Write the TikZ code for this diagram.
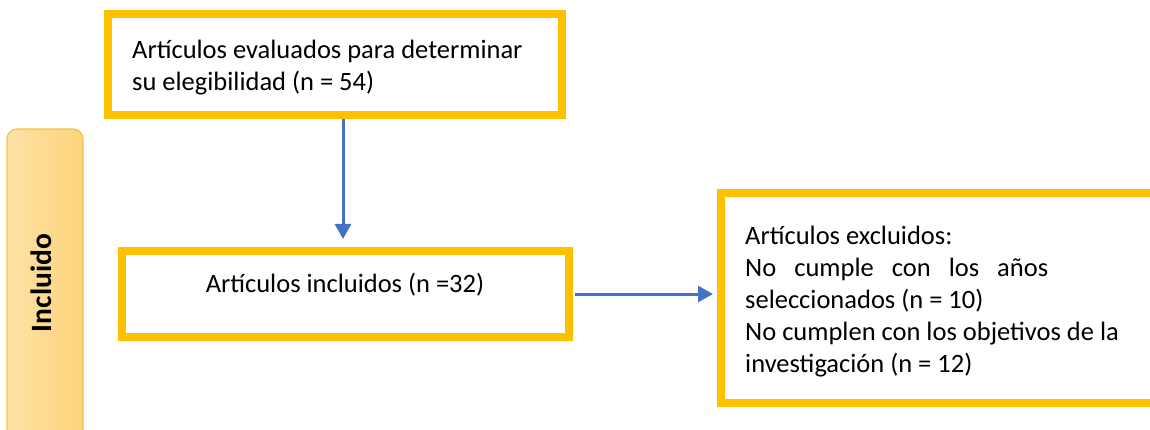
\documentclass[tikz,border=0pt]{standalone}
\usepackage{fontspec}
\setmainfont{Carlito}
\usetikzlibrary{arrows.meta,shadings}
\definecolor{gold}{HTML}{FFC000}
\definecolor{arrowblue}{HTML}{4472C4}
\definecolor{sideL}{HTML}{FEE1A6}
\definecolor{sideR}{HTML}{FDD47B}
\definecolor{sideB}{HTML}{F6C343}
\tikzset{
  goldbox/.style={draw=gold, line width=7.5pt, inner sep=0pt, outer sep=0pt},
  flow/.style={draw=arrowblue, line width=3pt, -{Triangle[length=15pt,width=16pt]}},
  txt/.style={font=\fontsize{26.5}{32}\selectfont, inner sep=0pt, align=left, anchor=base west},
}
\begin{document}
\begin{tikzpicture}[x=1pt,y=-1pt]
\useasboundingbox (0,0) rectangle (1150,430);
\fill[white] (0,0) rectangle (1150,430);
\clip (0,0) rectangle (1150,430);
% side label
\node[draw=sideB, line width=1.2pt, rounded corners=10pt, left color=sideL, right color=sideR,
      minimum width=76pt, minimum height=320pt, anchor=north west, inner sep=0pt, outer sep=0pt] (side) at (7,129) {};
\node[rotate=90, font=\fontsize{29.5}{32}\selectfont\bfseries, inner sep=0pt] (sidelbl) at (41,283) {Incluido};
% boxes
\node[goldbox, minimum width=454pt, minimum height=101pt, anchor=north west] (b1) at (108,14) {};
\node[txt] (t1) at (132,91) {Artículos evaluados para determinar\\su elegibilidad (n = 54)};
\node[goldbox, minimum width=447pt, minimum height=86pt, anchor=north west] (b2) at (122,251) {};
\node[txt, anchor=base] (t2) at (345,292) {Artículos incluidos (n =32)};
\node[goldbox, minimum width=500pt, minimum height=210pt, anchor=north west] (b3) at (721,193) {};
\node[txt] (t3) at (745,372) {Artículos excluidos:\\
\makebox[303pt][s]{No cumple con los años}\\
seleccionados (n = 10)\\
No cumplen con los objetivos de la\\
investigación (n = 12)};
% arrows
\coordinate (a1s) at ([xshift=8pt,yshift=-3.75pt]b1.south);
\coordinate (a1e) at (a1s |- b2.north);
\draw[flow] (a1s) -- ([yshift=12pt]a1e);
\coordinate (a2s) at ([xshift=6pt]b2.east);
\coordinate (a2e) at ([xshift=-8pt]b3.west |- a2s);
\draw[flow] (a2s) -- (a2e);
\end{tikzpicture}
\end{document}
